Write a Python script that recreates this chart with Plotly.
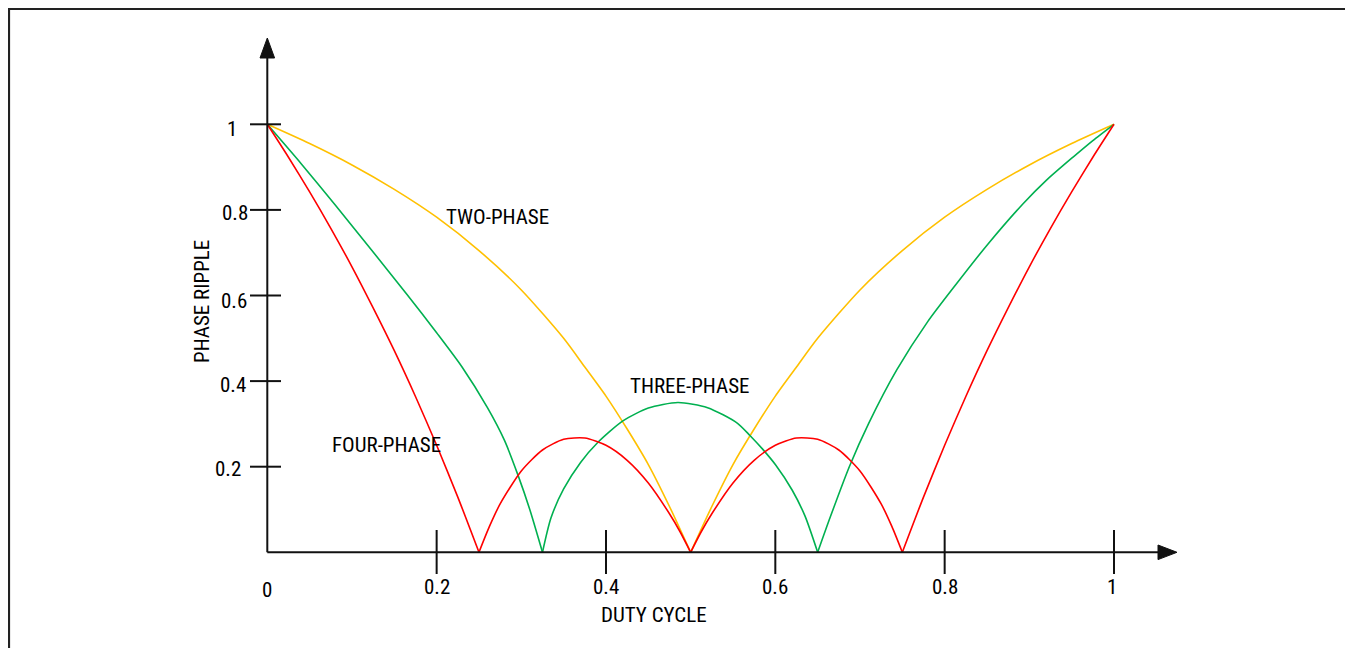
import plotly.graph_objects as go

# ---------------- data ----------------
two_phase_x = [0, 0.05, 0.1, 0.15, 0.2, 0.25, 0.3, 0.35, 0.375, 0.4, 0.425, 0.45, 0.475, 0.5,
               0.525, 0.55, 0.575, 0.6, 0.625, 0.65, 0.7, 0.75, 0.8, 0.85, 0.9, 0.95, 1.0]
two_phase_y = [1.0, 0.955, 0.905, 0.848, 0.783, 0.705, 0.613, 0.50, 0.433, 0.365, 0.288, 0.205, 0.107, 0.0,
               0.107, 0.205, 0.288, 0.365, 0.433, 0.50, 0.613, 0.705, 0.783, 0.848, 0.905, 0.955, 1.0]

three_phase_x = [0, 0.04, 0.08, 0.12, 0.165, 0.2, 0.23, 0.26, 0.28, 0.2965, 0.31, 0.325,
                 0.335, 0.35, 0.37, 0.39, 0.42, 0.45, 0.485, 0.52, 0.555, 0.57, 0.585, 0.60, 0.62, 0.635, 0.65,
                 0.665, 0.6874, 0.71, 0.7434, 0.78, 0.8142, 0.85, 0.8929, 0.92, 0.952, 0.975, 1.0]
three_phase_y = [1.0, 0.908, 0.812, 0.714, 0.6025, 0.513, 0.433, 0.338, 0.262, 0.178, 0.10, 0.0,
                 0.08, 0.148, 0.21, 0.256, 0.307, 0.337, 0.35, 0.338, 0.302, 0.273, 0.241, 0.205, 0.145, 0.085, 0.0,
                 0.083, 0.200, 0.300, 0.426, 0.539, 0.628, 0.7175, 0.815, 0.869, 0.924, 0.962, 1.0]

four_phase_x = [0, 0.025, 0.05, 0.075, 0.1, 0.125, 0.15, 0.175, 0.2, 0.225, 0.25,
                0.2625, 0.275, 0.3, 0.325, 0.35, 0.375, 0.4, 0.425, 0.45, 0.475, 0.4875, 0.5,
                0.5125, 0.525, 0.55, 0.575, 0.6, 0.625, 0.65, 0.675, 0.7, 0.725, 0.7375, 0.75,
                0.775, 0.8, 0.825, 0.85, 0.875, 0.9, 0.925, 0.95, 0.975, 1.0]
four_phase_y = [1.0, 0.923, 0.842, 0.757, 0.667, 0.571, 0.471, 0.364, 0.25, 0.129, 0.0,
                0.061, 0.113, 0.190, 0.239, 0.264, 0.267, 0.25, 0.215, 0.162, 0.090, 0.048, 0.0,
                0.048, 0.090, 0.162, 0.215, 0.25, 0.267, 0.264, 0.239, 0.190, 0.113, 0.061, 0.0,
                0.129, 0.25, 0.364, 0.471, 0.571, 0.667, 0.757, 0.842, 0.923, 1.0]

x_ticks = [0.2, 0.4, 0.6, 0.8, 1.0]
x_tick_labels = ["0", "0.2", "0.4", "0.6", "0.8", "1"]
x_label_values = [0, 0.2, 0.4, 0.6, 0.8, 1.0]
y_ticks = [0.2, 0.4, 0.6, 0.8, 1.0]
y_tick_labels = ["0.2", "0.4", "0.6", "0.8", "1"]

# ---------------- geometry (screen pixels -> data) ----------------
FIG_W, FIG_H = 1343, 640
OFF = 8                      # page body margin
X0_PX, XS = 267.3, 846.7     # screen px of x=0, px per unit
Y0_PX, YS = 552.3, 428.0     # screen px of y=0, px per unit


def dx(px):
    return (px - X0_PX) / XS


def dy(py):
    return (Y0_PX - py) / YS


FONT = "Liberation Sans Narrow, Arial Narrow, Roboto Condensed, Liberation Sans, sans-serif"
COL_TWO, COL_THREE, COL_FOUR = "#FFC000", "#00B050", "#FF0000"

fig = go.Figure()


def add_series(xs, ys, color, name):
    def emit(sx, sy):
        fig.add_trace(go.Scatter(x=sx, y=sy, mode="lines", name=name, showlegend=False,
                                 line=dict(color=color, width=1.6, shape="spline", smoothing=0.7),
                                 hoverinfo="skip"))
    seg_x, seg_y = [xs[0]], [ys[0]]
    for i in range(1, len(xs)):
        seg_x.append(xs[i])
        seg_y.append(ys[i])
        if ys[i] == 0 and 0 < i < len(xs) - 1:
            emit(seg_x, seg_y)
            seg_x, seg_y = [xs[i]], [ys[i]]
    emit(seg_x, seg_y)


add_series(two_phase_x, two_phase_y, COL_TWO, "TWO-PHASE")
add_series(three_phase_x, three_phase_y, COL_THREE, "THREE-PHASE")
add_series(four_phase_x, four_phase_y, COL_FOUR, "FOUR-PHASE")

AX = "#111111"
shapes = []
# axes
shapes.append(dict(type="line", xref="x", yref="y", x0=0, y0=0, x1=0, y1=dy(58),
                   line=dict(color=AX, width=2)))
shapes.append(dict(type="line", xref="x", yref="y", x0=0, y0=0, x1=dx(1159), y1=0,
                   line=dict(color=AX, width=2)))
# arrow heads
shapes.append(dict(type="path", xref="x", yref="y",
                   path=f"M {dx(260)} {dy(58)} L {dx(274.6)} {dy(58)} L {dx(267.3)} {dy(38)} Z",
                   fillcolor=AX, line=dict(color=AX, width=1)))
shapes.append(dict(type="path", xref="x", yref="y",
                   path=f"M {dx(1158)} {dy(545)} L {dx(1158)} {dy(559.6)} L {dx(1177)} {dy(552.3)} Z",
                   fillcolor=AX, line=dict(color=AX, width=1)))
# ticks
for t in x_ticks:
    shapes.append(dict(type="line", xref="x", yref="y", x0=t, x1=t, y0=dy(530), y1=dy(574),
                       line=dict(color=AX, width=2)))
for t in y_ticks:
    shapes.append(dict(type="line", xref="x", yref="y", x0=dx(250), x1=dx(281), y0=t, y1=t,
                       line=dict(color=AX, width=2)))
# frame (left, top, right edges)
shapes.append(dict(type="path", xref="x", yref="y",
                   path=(f"M {dx(9)} {dy(660)} L {dx(9)} {dy(9)} "
                         f"L {dx(1349.5)} {dy(9)} L {dx(1349.5)} {dy(660)}"),
                   line=dict(color="#222222", width=2.2)))

annotations = []


def txt(text, x, y, size=21, angle=0, xanchor="center"):
    annotations.append(dict(text=text, x=x, y=y, xref="x", yref="y", showarrow=False,
                            font=dict(family=FONT, size=size, color="#000000"),
                            textangle=angle, xanchor=xanchor, yanchor="middle"))


for v, lab in zip(x_label_values, x_tick_labels):
    ypx = 590 if lab == "0" else 587
    txt(lab, v if lab != "1" else dx(1112), dy(ypx))
y_label_px = {"1": (232, 129), "0.8": (235, 213), "0.6": (234, 301), "0.4": (233, 385), "0.2": (228, 469)}
for v, lab in zip(y_ticks, y_tick_labels):
    px, py = y_label_px[lab]
    txt(lab, dx(px), dy(py))

txt("TWO-PHASE", dx(497), dy(217))
txt("THREE-PHASE", dx(689), dy(386))
txt("FOUR-PHASE", dx(386), dy(445))
txt("PHASE RIPPLE", dx(202), dy(302), angle=-90)
txt("DUTY CYCLE", dx(654), dy(615))

fig.update_layout(
    width=FIG_W, height=FIG_H,
    margin=dict(l=0, r=0, t=0, b=0),
    paper_bgcolor="white", plot_bgcolor="white",
    xaxis=dict(range=[dx(OFF), dx(OFF + FIG_W)], visible=False, fixedrange=True),
    yaxis=dict(range=[dy(OFF + FIG_H), dy(OFF)], visible=False, fixedrange=True),
    shapes=shapes, annotations=annotations,
    showlegend=False,
)

fig.write_html("out.html")
